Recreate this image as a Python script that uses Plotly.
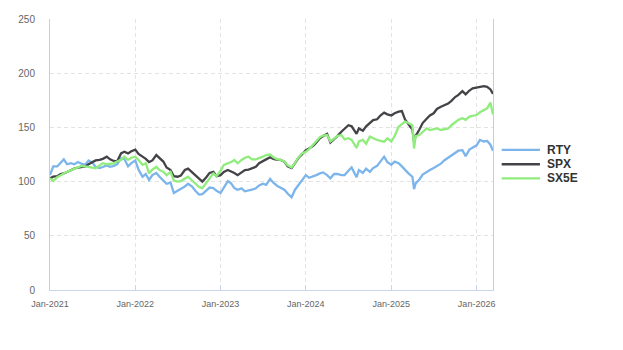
import plotly.graph_objects as go

# Semi-monthly observation dates (plus 2025-04-08 and the final print)
dates = [
    "2021-01-01", "2021-01-15", "2021-02-01", "2021-02-15", "2021-03-01", "2021-03-15",
    "2021-04-01", "2021-04-15", "2021-05-01", "2021-05-15", "2021-06-01", "2021-06-15",
    "2021-07-01", "2021-07-15", "2021-08-01", "2021-08-15", "2021-09-01", "2021-09-15",
    "2021-10-01", "2021-10-15", "2021-11-01", "2021-11-15", "2021-12-01", "2021-12-15",
    "2022-01-01", "2022-01-15", "2022-02-01", "2022-02-15", "2022-03-01", "2022-03-15",
    "2022-04-01", "2022-04-15", "2022-05-01", "2022-05-15", "2022-06-01", "2022-06-15",
    "2022-07-01", "2022-07-15", "2022-08-01", "2022-08-15", "2022-09-01", "2022-09-15",
    "2022-10-01", "2022-10-15", "2022-11-01", "2022-11-15", "2022-12-01", "2022-12-15",
    "2023-01-01", "2023-01-15", "2023-02-01", "2023-02-15", "2023-03-01", "2023-03-15",
    "2023-04-01", "2023-04-15", "2023-05-01", "2023-05-15", "2023-06-01", "2023-06-15",
    "2023-07-01", "2023-07-15", "2023-08-01", "2023-08-15", "2023-09-01", "2023-09-15",
    "2023-10-01", "2023-10-15", "2023-11-01", "2023-11-15", "2023-12-01", "2023-12-15",
    "2024-01-01", "2024-01-15", "2024-02-01", "2024-02-15", "2024-03-01", "2024-03-15",
    "2024-04-01", "2024-04-15", "2024-05-01", "2024-05-15", "2024-06-01", "2024-06-15",
    "2024-07-01", "2024-07-15", "2024-08-05", "2024-08-15", "2024-09-01", "2024-09-15",
    "2024-10-01", "2024-10-15", "2024-11-01", "2024-11-15", "2024-12-01", "2024-12-15",
    "2025-01-01", "2025-01-15", "2025-02-01", "2025-02-15", "2025-03-01", "2025-03-15",
    "2025-04-01", "2025-04-08", "2025-04-15", "2025-05-01", "2025-05-15", "2025-06-01",
    "2025-06-15", "2025-07-01", "2025-07-15", "2025-08-01", "2025-08-15", "2025-09-01",
    "2025-09-15", "2025-10-01", "2025-10-15", "2025-11-01", "2025-11-15", "2025-12-01",
    "2025-12-15",
    "2026-01-01", "2026-01-15", "2026-02-01", "2026-02-15", "2026-03-01", "2026-03-12",
]

rty = [
    106, 114, 114, 117, 120.5, 116, 117, 116, 118, 116.5, 115.5, 119.5,
    117.5, 113.7, 112.5, 113.5, 115, 113.7, 114.5, 116, 121.5, 121, 114, 117,
    119.5, 111, 104.5, 107, 101.5, 106, 108, 104.5, 101, 98, 99, 89.5,
    91.5, 93, 95.5, 98, 95.5, 91.5, 88, 88.5, 92.3, 94.5, 94, 91.5,
    89.5, 94.5, 100.5, 98.4, 94, 92.5, 93.8, 91, 91.5, 92.5, 93.8, 96.5,
    98, 97, 102.5, 99, 96, 94, 92.5, 89, 85.5, 92.3, 97, 102,
    106, 103.5, 104.5, 106, 107.6, 108.5, 106, 103, 107, 107, 106, 106,
    110, 113, 104, 110.7, 108, 112, 109, 112.5, 114.5, 119, 123, 118,
    115.5, 118.4, 117, 114, 110.7, 107.6, 104.5, 93, 98.4, 102, 106.5, 109,
    110.7, 112.5, 114, 116.5, 119.5, 122, 124.5, 126.5, 128.5, 129, 123.5, 129.5,
    131.5,
    133.5, 138.4, 137, 137.5, 134, 128.5,
]

spx = [
    103, 104.5, 105, 107, 107.5, 109, 110.7, 112, 113, 113.7, 114, 116,
    117.5, 119.5, 120, 121, 123, 120.5, 119, 118.6, 126, 127.5, 126, 128,
    129.5, 125.5, 123, 121, 118, 119.5, 124.5, 121.5, 118.5, 113, 110.7, 105,
    104.5, 105.5, 110.7, 112, 108.5, 105.5, 102, 100, 104, 108, 109, 105,
    106, 109, 110.7, 109.5, 108, 106, 109, 110.7, 111, 112, 113.7, 117,
    118.5, 120.5, 122.5, 121, 120, 120, 118.4, 114, 112.5, 117, 122, 125,
    129, 130.5, 133, 136, 140, 142, 144, 136, 139, 142, 146, 149,
    152, 151, 144, 149, 147, 151, 154, 156.8, 157.5, 161, 163.6, 162,
    161, 163, 164.5, 165, 157, 153, 148, 137, 142, 148, 154, 158,
    161, 163, 167, 169, 170.7, 172, 174.5, 178, 180, 183.5, 180.5, 184,
    186,
    186.5, 187.6, 188, 187.5, 185, 181,
]

sx5e = [
    103, 100.5, 104, 106, 107.5, 109, 110.5, 112.3, 113.5, 114.4, 114, 113.7,
    113, 112.3, 115.3, 117, 116, 116.5, 116.9, 118.5, 120, 123, 120, 122,
    123, 120, 115.5, 116.9, 107.6, 111, 113.7, 110.7, 109, 106, 109, 101,
    100, 100.5, 103, 104.5, 101, 98, 95, 94, 99, 104, 107.6, 105,
    110, 115.3, 116.5, 118, 120, 116.9, 120, 122, 123, 120.5, 120.5, 121.5,
    123, 124.5, 125, 122.5, 120.5, 120, 118.5, 115, 113, 117, 122.5, 126,
    127.6, 130, 134, 137.5, 141, 142.5, 143, 137, 140, 142, 143, 139,
    140, 138.4, 131, 137, 138.4, 135, 141.5, 140, 138.4, 137.5, 136.8, 140,
    137, 142, 150.6, 153, 155.3, 154, 152, 130.5, 142, 143, 146, 149,
    147.6, 148.5, 149, 147.6, 148, 149, 152, 155, 157, 158.4, 157, 160,
    160.5,
    161.4, 164, 166, 167.6, 173, 162,
]

series_names = ["RTY", "SPX", "SX5E"]
series_values = [rty, spx, sx5e]
series_colors = ["#7cb5ec", "#434348", "#90ed7d"]

fig = go.Figure()
for name, values, color in zip(series_names, series_values, series_colors):
    fig.add_trace(go.Scatter(
        x=dates, y=values, name=name, mode="lines",
        line=dict(color=color, width=2.3),
        showlegend=False,
    ))

# Compact legend on the right: a line swatch and a bold label per series
legend_rows_y = [0.517, 0.464, 0.412]
for name, color, ly in zip(series_names, series_colors, legend_rows_y):
    fig.add_shape(
        type="line", xref="paper", yref="paper",
        x0=1.0196, x1=1.106, y0=ly, y1=ly,
        line=dict(color=color, width=2.3),
    )
    fig.add_annotation(
        xref="paper", yref="paper", x=1.118, y=ly,
        xanchor="left", yanchor="middle", showarrow=False,
        text=name,
        font=dict(size=12, color="#333333", weight="bold",
                  family="Liberation Sans, Arial, sans-serif"),
    )

axis_font = dict(family="Liberation Sans, Arial, sans-serif", color="#666666")

fig.update_layout(
    width=623, height=350,
    margin=dict(l=50, r=130, t=19, b=60),
    paper_bgcolor="white", plot_bgcolor="white",
    font=dict(family="Liberation Sans, Arial, sans-serif"),
    xaxis=dict(
        type="date",
        range=["2021-01-01", "2026-03-12"],
        tickvals=["2021-01-01", "2022-01-01", "2023-01-01", "2024-01-01", "2025-01-01", "2026-01-01"],
        tickformat="%b-%Y",
        tickfont=dict(size=9, **axis_font),
        showgrid=True, gridcolor="#e3e3e3", griddash="4px,3px", gridwidth=1,
        showline=True, linecolor="#ccd6eb", linewidth=1,
        ticks="inside", ticklen=5, tickcolor="#ccd6eb",
        ticklabelstandoff=5,
        zeroline=False,
    ),
    yaxis=dict(
        range=[0, 250], dtick=50,
        tickfont=dict(size=10, **axis_font),
        showgrid=True, gridcolor="#e3e3e3", griddash="4px,3px", gridwidth=1,
        showline=True, mirror=True, linecolor="#cccccc", linewidth=1,
        ticks="", ticklabelstandoff=12,
        zeroline=False,
    ),
)

fig.write_html("out.html")
